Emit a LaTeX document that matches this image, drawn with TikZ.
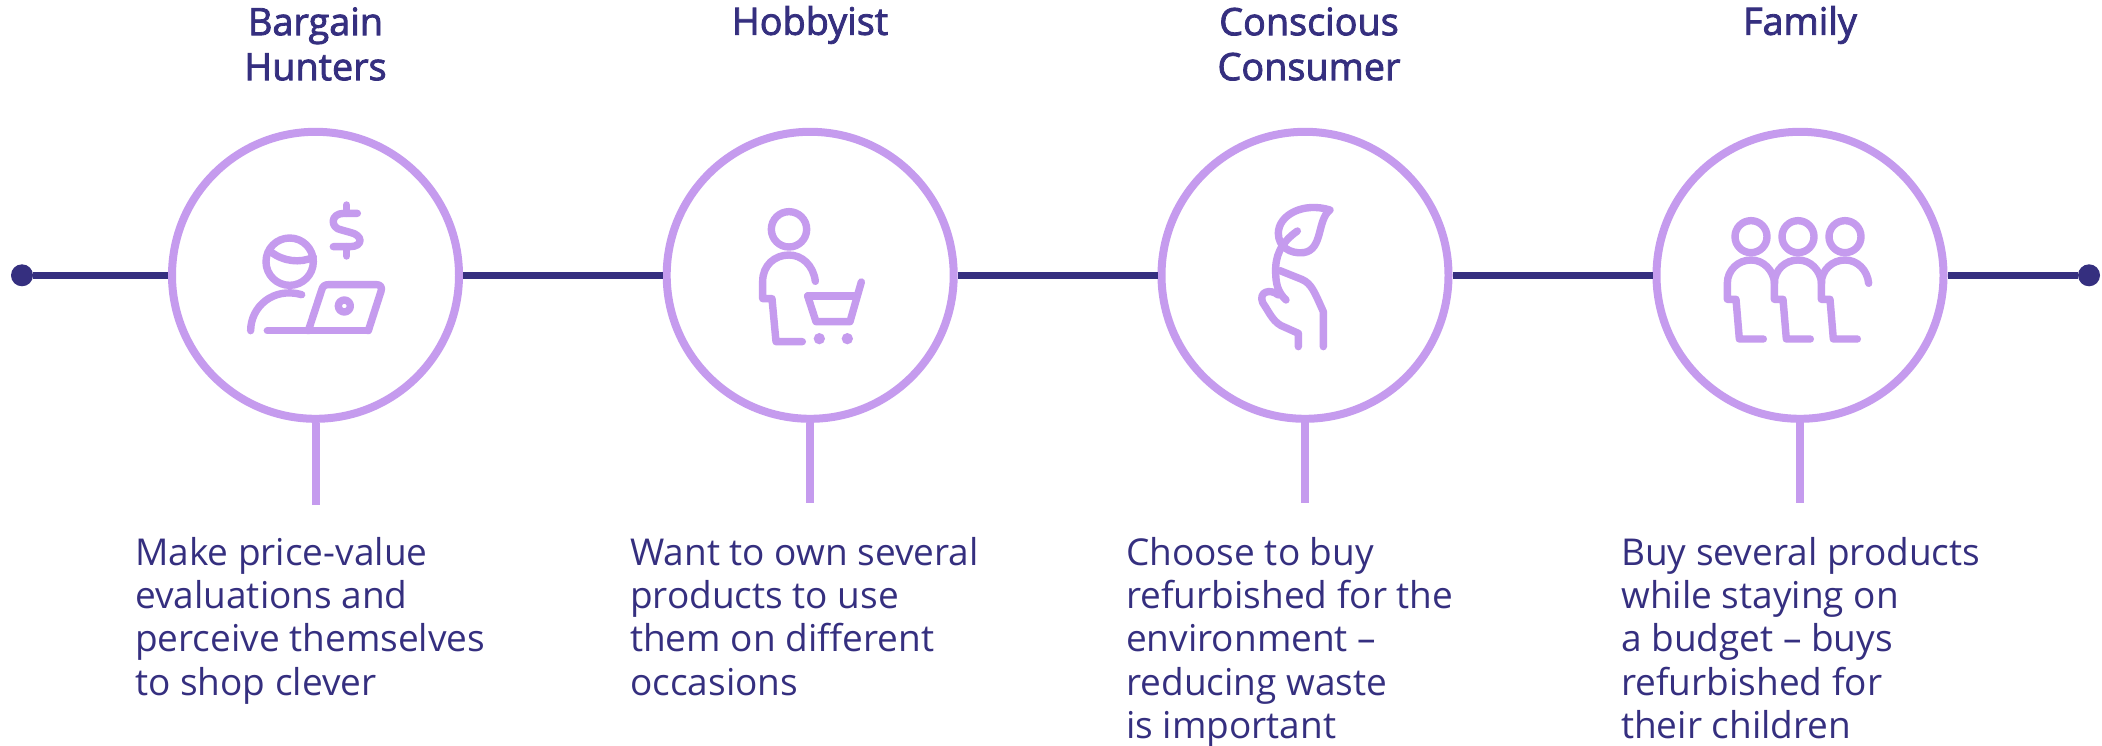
\documentclass[tikz,border=0pt]{standalone}
\usepackage{fontspec}
\setmainfont{Open Sans}
\newfontfamily\headfont[FakeBold=2.2]{Open Sans}
\definecolor{navy}{HTML}{352F7F}
\definecolor{lilac}{HTML}{C59BEE}
\tikzset{
  ring/.style={circle,draw=lilac,line width=8pt,minimum size=287pt,inner sep=0pt,fill=white},
  rail/.style={draw=navy,line width=7.5pt},
  dot/.style={circle,fill=navy,minimum size=22pt,inner sep=0pt},
  stem/.style={draw=lilac,line width=8pt},
  ico/.style={draw=lilac,line width=7.4pt,line cap=round,line join=round},
  zoomed/.style={x=0.33333pt,y=-0.33333pt},
  head/.style={text=navy,font=\fontsize{37.8}{45}\selectfont\headfont,align=center,anchor=center,inner sep=0pt},
  body/.style={text=navy,font=\fontsize{37}{43.3}\selectfont,align=left,anchor=north west,inner sep=0pt},
}
\begin{document}
\begin{tikzpicture}[x=1pt,y=-1pt]
\useasboundingbox (0,0) rectangle (2102,746);
\node[dot] (d0) at (22,275.3) {};
\node[dot] (d1) at (2089,275.3) {};
\node[ring] (c1) at (315.5,275.3) {};
\node[ring] (c2) at (810.2,275.3) {};
\node[ring] (c3) at (1305,275.3) {};
\node[ring] (c4) at (1800,275.3) {};
\draw[rail] (d0) -- (c1);
\draw[rail] (c1) -- (c2);
\draw[rail] (c2) -- (c3);
\draw[rail] (c3) -- (c4);
\draw[rail] (c4) -- (d1);
\coordinate (s1) at (315.5,505);
\coordinate (s2) at (810.2,503);
\coordinate (s3) at (1305,503);
\coordinate (s4) at (1800,503);
\draw[stem] (c1.south) -- (s1);
\draw[stem] (c2.south) -- (s2);
\draw[stem] (c3.south) -- (s3);
\draw[stem] (c4.south) -- (s4);
\node[head] (h1) at (315.5,44) {Bargain\\Hunters};
\node[head] (h2) at (810,25) {Hobbyist};
\node[head] (h3) at (1309,44) {Conscious\\Consumer};
\node[head] (h4) at (1800,25) {Family};
\node[body] (t1) at (135,537) {Make price-value\\evaluations and\\perceive themselves\\to shop clever};
\node[body] (t2) at (630,537) {Want to own several\\products to use\\them on different\\occasions};
\node[body] (t3) at (1126,537) {Choose to buy\\refurbished for the\\environment –\\reducing waste\\is important};
\node[body] (t4) at (1621,537) {Buy several products\\while staying on\\a budget – buys\\refurbished for\\their children};
% icon 1
\begin{scope}[shift={(150,170)},zoomed]
\draw[ico] (419,275) circle (71);
\draw[ico] (362,245) .. controls (400,275) and (450,280) .. (490,262);
\draw[ico] (302,482) .. controls (302,410) and (370,350) .. (455,374);
\draw[ico] (352,482) -- (655,482);
\draw[ico] (475,482) -- (515,360) .. controls (518,348) and (525,344) .. (535,344) -- (680,344) .. controls (692,344) and (697,352) .. (693,364) -- (655,482);
\draw[ico] (583,408) circle (18);
\draw[ico] (590,105) -- (590,130);
\draw[ico] (590,230) -- (590,258);
\draw[ico] (622,130) -- (582,130) .. controls (540,130) and (540,175) .. (575,180) -- (600,187) .. controls (640,195) and (640,230) .. (600,230) -- (550,230);
\end{scope}
% icon 2
\begin{scope}[shift={(700,170)},zoomed]
\draw[ico] (267,178) circle (53);
\draw[ico] (346,334) .. controls (340,285) and (305,255) .. (267,255) .. controls (225,255) and (188,285) .. (188,334) -- (188,386) -- (216,386) -- (228,515) -- (307,515);
\draw[ico] (323,378) -- (466,378);
\draw[ico] (323,378) -- (348,455) -- (450,455) -- (484,336);
\fill[lilac] (358,506) circle (17) (442,506) circle (17);
\end{scope}
% icon 3
\begin{scope}[shift={(1190,180)},zoomed]
\draw[ico] (420,90) .. controls (340,65) and (265,105) .. (265,160) .. controls (265,200) and (300,222) .. (340,218) .. controls (400,210) and (380,120) .. (420,90);
\draw[ico] (322,153) .. controls (270,190) and (255,230) .. (257,280) .. controls (258,310) and (262,335) .. (288,360);
\draw[ico] (270,272) -- (335,298) .. controls (365,310) and (375,340) .. (400,395) -- (400,500);
\draw[ico] (265,345) .. controls (240,325) and (205,335) .. (218,368) .. controls (240,400) and (250,430) .. (285,442) -- (325,460) -- (325,500);
\end{scope}
% icon 4
\begin{scope}[shift={(1680,190)},zoomed]
\foreach \dx in {0,141,282}{
  \draw[ico,shift={(\dx,0)}] (213,140) circle (48);
  \draw[ico,shift={(\dx,0)}] (284,280) .. controls (280,240) and (250,210) .. (213,210) .. controls (175,210) and (142,240) .. (142,280) -- (142,328) -- (168,328) -- (178,447) -- (250,447);
}
\end{scope}
\end{tikzpicture}
\end{document}
